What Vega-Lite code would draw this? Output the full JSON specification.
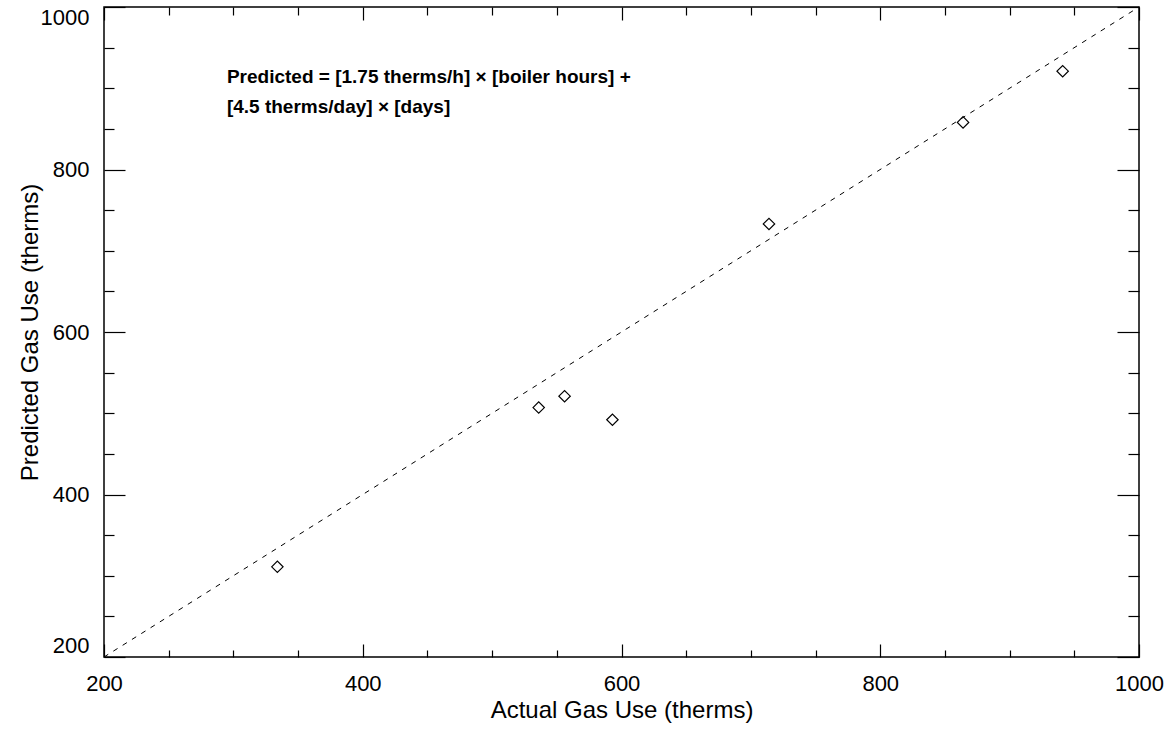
{
  "$schema": "https://vega.github.io/schema/vega-lite/v6.json",
  "autosize": "none",
  "width": 1035,
  "height": 650,
  "padding": {"left": 104, "top": 7, "right": 28, "bottom": 75},
  "background": "white",
  "config": {
    "view": {"stroke": "black", "strokeWidth": 1.5},
    "axis": {
      "domain": false,
      "grid": false,
      "tickColor": "black",
      "labelColor": "black",
      "titleColor": "black",
      "labelFont": "Liberation Sans",
      "titleFont": "Liberation Sans",
      "labelFontSize": 22,
      "titleFontSize": 24,
      "titleFontWeight": "normal",
      "tickWidth": 1.2
    }
  },
  "datasets": {
    "points": [
      {"actual": 334, "predicted": 311},
      {"actual": 536, "predicted": 507},
      {"actual": 556, "predicted": 521},
      {"actual": 593, "predicted": 492},
      {"actual": 714, "predicted": 733},
      {"actual": 864, "predicted": 858},
      {"actual": 941, "predicted": 921}
    ],
    "diag": [
      {"actual": 200, "predicted": 200},
      {"actual": 1000, "predicted": 1000}
    ],
    "note": [
      {"actual": 295, "predicted": 906, "label": "Predicted = [1.75 therms/h] × [boiler hours] +\n[4.5 therms/day] × [days]"}
    ]
  },
  "resolve": {"axis": {"x": "independent", "y": "independent"}},
  "layer": [
    {
      "data": {"name": "points"},
      "mark": {"type": "point", "shape": "diamond", "filled": false, "stroke": "black", "strokeWidth": 1.2, "size": 130, "opacity": 1},
      "encoding": {
        "x": {"field": "actual", "type": "quantitative", "scale": {"domain": [200, 1000], "nice": false, "zero": false},
          "axis": {"orient": "bottom", "values": [200, 400, 600, 800, 1000], "tickSize": -13, "labelPadding": 29, "labelFontSize": 22, "title": "Actual Gas Use (therms)", "titleFontSize": 24, "titlePadding": 4, "format": "d", "labelFlush": false}},
        "y": {"field": "predicted", "type": "quantitative", "scale": {"domain": [200, 1000], "nice": false, "zero": false},
          "axis": {"orient": "left", "values": [200, 400, 600, 800, 1000], "tickSize": -21, "labelPadding": 36, "labelFontSize": 22, "title": "Predicted Gas Use (therms)", "titleFontSize": 24, "titlePadding": -2, "format": "d", "labelFlush": true}}
      }
    },
    {
      "data": {"name": "diag"},
      "mark": {"type": "line", "color": "black", "strokeWidth": 1, "strokeDash": [5, 6]},
      "encoding": {
        "x": {"field": "actual", "type": "quantitative", "scale": {"domain": [200, 1000], "nice": false, "zero": false},
          "axis": {"orient": "top", "values": [250, 300, 350, 450, 500, 550, 650, 700, 750, 850, 900, 950], "tickSize": -8, "labels": false, "title": null}},
        "y": {"field": "predicted", "type": "quantitative", "scale": {"domain": [200, 1000], "nice": false, "zero": false},
          "axis": {"orient": "right", "values": [250, 300, 350, 450, 500, 550, 650, 700, 750, 850, 900, 950], "tickSize": -11, "labels": false, "title": null}}
      }
    },
    {
      "data": {"name": "note"},
      "mark": {"type": "text", "align": "left", "baseline": "alphabetic", "font": "Liberation Sans", "fontWeight": "bold", "fontSize": 19, "lineBreak": "\n", "lineHeight": 30, "color": "black"},
      "encoding": {
        "x": {"field": "actual", "type": "quantitative", "scale": {"domain": [200, 1000], "nice": false, "zero": false},
          "axis": {"orient": "bottom", "values": [250, 300, 350, 450, 500, 550, 650, 700, 750, 850, 900, 950], "tickSize": -7, "labels": false, "title": null}},
        "y": {"field": "predicted", "type": "quantitative", "scale": {"domain": [200, 1000], "nice": false, "zero": false},
          "axis": {"orient": "left", "values": [250, 300, 350, 450, 500, 550, 650, 700, 750, 850, 900, 950], "tickSize": -10, "labels": false, "title": null}},
        "text": {"field": "label"}
      }
    },
    {
      "data": {"name": "diag"},
      "mark": {"type": "line", "opacity": 0},
      "encoding": {
        "x": {"field": "actual", "type": "quantitative", "scale": {"domain": [200, 1000], "nice": false, "zero": false},
          "axis": {"orient": "top", "values": [200, 400, 600, 800, 1000], "tickSize": -13, "labels": false, "title": null}},
        "y": {"field": "predicted", "type": "quantitative", "scale": {"domain": [200, 1000], "nice": false, "zero": false},
          "axis": {"orient": "right", "values": [200, 400, 600, 800, 1000], "tickSize": -22, "labels": false, "title": null}}
      }
    }
  ]
}
